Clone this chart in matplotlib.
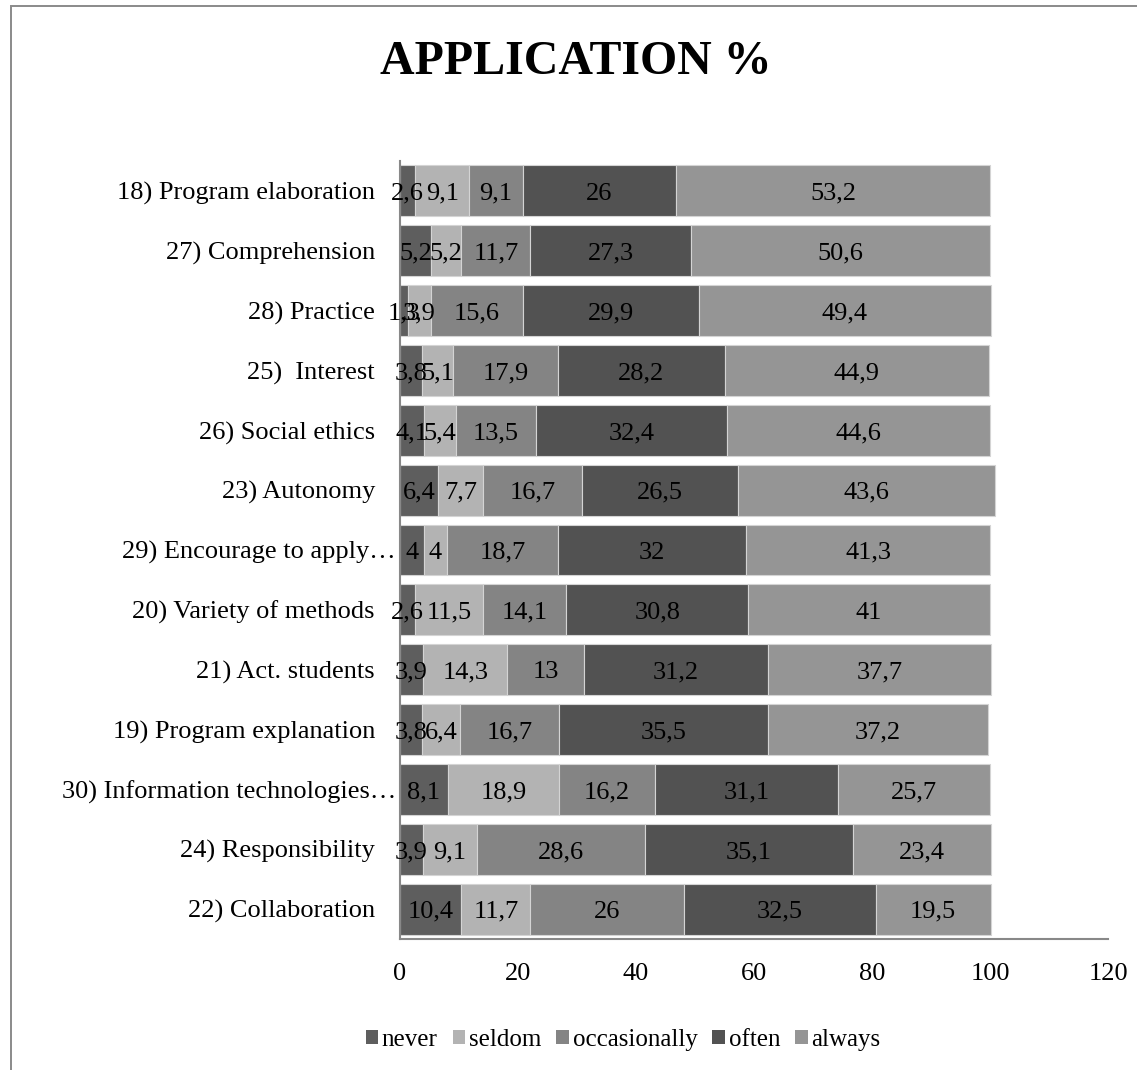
import matplotlib
matplotlib.use("Agg")
import matplotlib.pyplot as plt
from matplotlib.patches import Rectangle, Patch

plt.rcParams['font.family'] = ['Liberation Serif', 'DejaVu Serif']

categories = [
    "18) Program elaboration",
    "27) Comprehension",
    "28) Practice",
    "25)  Interest",
    "26) Social ethics",
    "23) Autonomy",
    "29) Encourage to apply\u2026",
    "20) Variety of methods",
    "21) Act. students",
    "19) Program explanation",
    "30) Information technologies\u2026",
    "24) Responsibility",
    "22) Collaboration",
]

never        = [2.6, 5.2, 1.3, 3.8, 4.1, 6.4, 4, 2.6, 3.9, 3.8, 8.1, 3.9, 10.4]
seldom       = [9.1, 5.2, 3.9, 5.1, 5.4, 7.7, 4, 11.5, 14.3, 6.4, 18.9, 9.1, 11.7]
occasionally = [9.1, 11.7, 15.6, 17.9, 13.5, 16.7, 18.7, 14.1, 13, 16.7, 16.2, 28.6, 26]
often        = [26, 27.3, 29.9, 28.2, 32.4, 26.5, 32, 30.8, 31.2, 35.5, 31.1, 35.1, 32.5]
always       = [53.2, 50.6, 49.4, 44.9, 44.6, 43.6, 41.3, 41, 37.7, 37.2, 25.7, 23.4, 19.5]

series_names = ["never", "seldom", "occasionally", "often", "always"]
series = [never, seldom, occasionally, often, always]
colors = ["#5e5e5e", "#b3b3b3", "#848484", "#525252", "#959595"]

xticks = [0, 20, 40, 60, 80, 100, 120]

W, H = 1137, 1070
FS = 19
fig = plt.figure(figsize=(W / 100, H / 100), dpi=100)
ax = fig.add_axes([400 / W, 1 - 939 / H, 708 / W, (939 - 161) / H])

# outer chart frame
fig.patches.append(Rectangle((11 / W, -0.05), 1.2, 1 - 6 / H + 0.05,
                             transform=fig.transFigure, fill=False,
                             edgecolor="#8a8a8a", linewidth=1.4))

ypos = list(range(len(categories)))
left = [0.0] * len(categories)
for name, vals, col in zip(series_names, series, colors):
    ax.barh(ypos, vals, left=left, height=0.85, color=col,
            edgecolor="#d4d4d4", linewidth=0.8, label=name)
    for y, v, l in zip(ypos, vals, left):
        txt = f"{v:g}".replace(".", ",")
        ax.annotate(txt, (l + v / 2, y), xytext=(0, -2),
                    textcoords="offset points", ha="center", va="center",
                    fontsize=FS, color="black")
    left = [a + b for a, b in zip(left, vals)]

ax.set_ylim(len(categories) - 0.5, -0.5)
ax.set_xlim(0, 120)
ax.set_xticks(xticks)
ax.set_xticklabels([str(t) for t in xticks], fontsize=FS)
ax.set_yticks(ypos)
ax.set_yticklabels(categories, fontsize=FS)
ax.tick_params(axis="both", length=0)
ax.tick_params(axis="x", pad=17)
ax.tick_params(axis="y", pad=18)
for i, t in enumerate(ax.yaxis.get_major_ticks()):
    if categories[i].endswith("\u2026"):
        t.set_pad(3)

for s in ["top", "right"]:
    ax.spines[s].set_visible(False)
for s in ["left", "bottom"]:
    ax.spines[s].set_color("#888888")
    ax.spines[s].set_linewidth(1.5)

fig.text(576 / W, 1 - 62 / H, "APPLICATION %", ha="center", va="center",
         fontsize=34.5, fontweight="bold")

handles = [Patch(facecolor=c, edgecolor="none") for c in colors]
fig.legend(handles, series_names, loc="center", ncol=5,
           bbox_to_anchor=(623 / W, 1 - 1040 / H), frameon=False,
           fontsize=18, handlelength=0.5, handleheight=0.5,
           handletextpad=0.15, columnspacing=0.6)

fig.savefig("out.png", dpi=100)
